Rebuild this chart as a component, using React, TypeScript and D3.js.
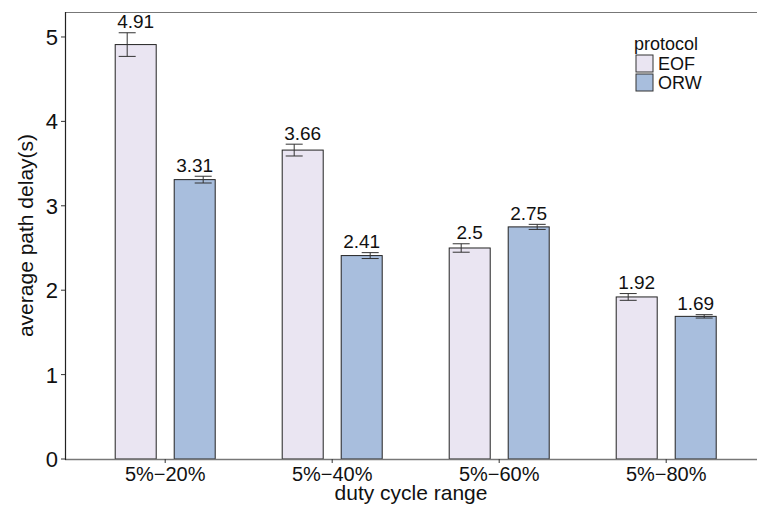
import React from "react";
import * as d3 from "d3";

// Average path delay per duty-cycle range, mean and spread for each protocol
const categories = ["5%−20%", "5%−40%", "5%−60%", "5%−80%"];
const protocols = ["EOF", "ORW"];
const eofMeans = [4.91, 3.66, 2.5, 1.92];
const orwMeans = [3.31, 2.41, 2.75, 1.69];
const eofErr = [0.14, 0.07, 0.05, 0.04];
const orwErr = [0.04, 0.035, 0.03, 0.02];
const yTicks = [0, 1, 2, 3, 4, 5];

const colors: Record<string, string> = { EOF: "#EAE5F2", ORW: "#A8BEDD" };

const W = 757;
const H = 508;
const left = 65;
const top = 12;
const bottom = 459;
const font = "'Liberation Sans', Arial, sans-serif";

export default function App() {
  // discrete axis: one unit per category, 0.6 unit padding on each side
  const unit = 167;
  const x = d3
    .scaleLinear()
    .domain([0.4, 4.6])
    .range([left, left + 4.2 * unit]);
  const y = d3.scaleLinear().domain([0, 5.296]).range([bottom, top]);

  const barW = 41;
  const barOff = 29.5;
  const errOff = 38;
  const capW = 17;

  const rows = categories.flatMap((c, i) => [
    { cat: c, i, p: "EOF", v: eofMeans[i], e: eofErr[i], s: -1 },
    { cat: c, i, p: "ORW", v: orwMeans[i], e: orwErr[i], s: 1 },
  ]);

  return (
    <svg width={W} height={H} style={{ position: "absolute", left: 0, top: 0, background: "#fff" }}>
      <rect x={0} y={0} width={W} height={H} fill="#fff" />
      {/* bars */}
      {rows.map((r, k) => {
        const cx = x(r.i + 1) + r.s * barOff;
        return (
          <rect
            key={"b" + k}
            x={cx - barW / 2}
            y={y(r.v)}
            width={barW}
            height={y(0) - y(r.v)}
            fill={colors[r.p]}
            stroke="#222"
            strokeWidth={1}
          />
        );
      })}
      {/* error bars */}
      {rows.map((r, k) => {
        const cx = x(r.i + 1) + r.s * errOff;
        const y1 = y(r.v + r.e);
        const y2 = y(r.v - r.e);
        return (
          <g key={"e" + k} stroke="#333" strokeWidth={1}>
            <line x1={cx} x2={cx} y1={y1} y2={y2} />
            <line x1={cx - capW / 2} x2={cx + capW / 2} y1={y1} y2={y1} />
            <line x1={cx - capW / 2} x2={cx + capW / 2} y1={y2} y2={y2} />
          </g>
        );
      })}
      {/* value labels */}
      {rows.map((r, k) => (
        <text
          key={"t" + k}
          x={x(r.i + 1) + r.s * barOff}
          y={y(r.v + r.e) - 4.5}
          textAnchor="middle"
          fontFamily={font}
          fontSize={19}
          fill="#111"
        >
          {String(r.v)}
        </text>
      ))}
      {/* frame */}
      <line x1={left} x2={W} y1={top + 0.5} y2={top + 0.5} stroke="#777" strokeWidth={1.2} />
      <line x1={left} x2={W} y1={bottom + 0.5} y2={bottom + 0.5} stroke="#777" strokeWidth={1.4} />
      <line x1={left + 0.5} x2={left + 0.5} y1={top} y2={bottom + 1} stroke="#222" strokeWidth={1.2} />
      {/* y axis */}
      {yTicks.map((t) => (
        <g key={"y" + t}>
          <line x1={left - 4} x2={left} y1={y(t)} y2={y(t)} stroke="#333" />
          <text
            x={left - 7}
            y={y(t)}
            dy="0.36em"
            textAnchor="end"
            fontFamily={font}
            fontSize={22}
            fill="#111"
          >
            {t}
          </text>
        </g>
      ))}
      {/* x axis */}
      {categories.map((c, i) => (
        <g key={"x" + i}>
          <line x1={x(i + 1)} x2={x(i + 1)} y1={bottom} y2={bottom + 4} stroke="#333" />
          <text
            x={x(i + 1)}
            y={481}
            textAnchor="middle"
            fontFamily={font}
            fontSize={20}
            fill="#111"
          >
            {c}
          </text>
        </g>
      ))}
      <text x={(left + W) / 2} y={500} textAnchor="middle" fontFamily={font} fontSize={21} fill="#111">
        duty cycle range
      </text>
      <text
        transform={`translate(33, ${(top + bottom) / 2}) rotate(-90)`}
        textAnchor="middle"
        fontFamily={font}
        fontSize={21}
        fill="#111"
      >
        average path delay(s)
      </text>
      {/* legend */}
      <text x={634} y={50} fontFamily={font} fontSize={18} fill="#111">
        protocol
      </text>
      {protocols.map((p, i) => (
        <g key={"l" + p}>
          <rect x={636} y={55 + i * 19} width={17} height={17} fill={colors[p]} stroke="#333" />
          <text x={658} y={70 + i * 19} fontFamily={font} fontSize={18} fill="#111">
            {p}
          </text>
        </g>
      ))}
    </svg>
  );
}
